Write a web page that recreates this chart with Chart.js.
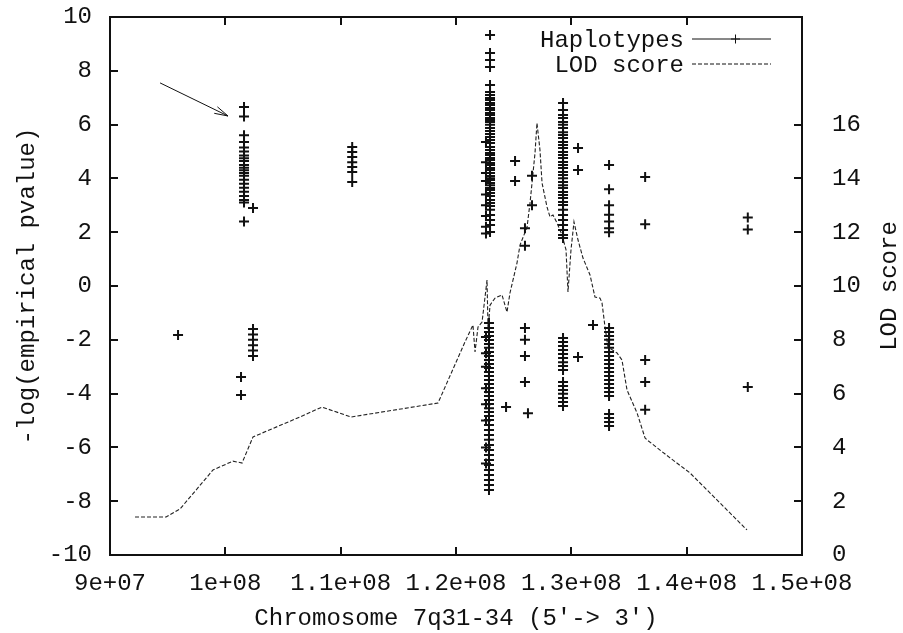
<!DOCTYPE html>
<html>
<head>
<meta charset="utf-8">
<script src="https://cdn.jsdelivr.net/npm/chart.js@4/dist/chart.umd.min.js"></script>
<style>
  body { margin: 0; background: #fff; }
  #chart { display: block; }
</style>
</head>
<body>
<canvas id="chart" width="903" height="633"></canvas>
<script>
// x tick labels, gnuplot style
const xTickLabels = ['9e+07', '1e+08', '1.1e+08', '1.2e+08', '1.3e+08', '1.4e+08', '1.5e+08'];
const y2LastTick = 16;

// LOD score curve (position in bp, LOD on right axis)
const lodPos = [
  92.17e6, 94.86e6, 96.07e6, 98.93e6, 100.66e6, 101.45e6, 102.40e6, 106.47e6, 108.38e6, 110.90e6,
  118.44e6, 120.78e6, 121.47e6, 121.65e6, 121.91e6, 122.26e6, 122.69e6, 122.78e6, 122.95e6, 123.38e6,
  123.99e6, 124.42e6, 124.68e6, 125.29e6, 125.55e6, 126.16e6, 126.42e6, 126.85e6, 127.02e6, 127.28e6,
  127.46e6, 127.89e6, 128.15e6, 128.41e6, 128.76e6, 129.19e6, 129.54e6, 129.71e6, 129.97e6, 130.23e6,
  130.58e6, 131.01e6, 131.62e6, 132.05e6, 132.49e6, 132.66e6, 132.92e6, 133.18e6, 133.96e6, 134.39e6,
  134.83e6, 135.70e6, 136.39e6, 136.56e6, 138.56e6, 140.29e6, 145.23e6
];
const lodScore = [
  1.41, 1.41, 1.71, 3.16, 3.49, 3.42, 4.39, 5.13, 5.50, 5.13,
  5.65, 7.92, 8.55, 7.55, 8.48, 8.66, 10.22, 8.36, 9.29, 9.55,
  9.67, 9.03, 9.74, 10.86, 11.52, 12.19, 13.09, 14.94, 16.06, 15.06,
  13.83, 12.94, 12.57, 12.64, 12.34, 11.90, 11.34, 9.78, 11.34, 12.38,
  11.71, 11.04, 10.41, 9.59, 9.55, 9.37, 8.48, 7.73, 7.51, 7.25,
  6.13, 5.28, 4.35, 4.28, 3.61, 3.05, 0.93
];

// haplotypes: one position, several -log(p) values each
const hapPos = [
  95.9e6, 101.36e6, 101.62e6, 102.4e6, 111.0e6,
  122.6e6, 122.95e6, 122.86e6,
  124.34e6, 125.12e6, 125.98e6, 126.24e6, 126.59e6,
  129.28e6, 130.58e6, 131.88e6, 133.27e6, 136.4e6, 145.3e6
];
const hapVals = [
  [-1.82],
  [-3.38, -4.05],
  [6.65, 6.3, 5.6, 5.35, 5.15, 5.0, 4.85, 4.75, 4.65, 4.5, 4.4, 4.3, 4.2, 4.1, 3.95, 3.8, 3.65, 3.5, 3.35, 3.2, 3.1, 2.4],
  [2.9, -1.6, -1.8, -2.0, -2.2, -2.4, -2.6],
  [5.17, 4.98, 4.8, 4.6, 4.42, 4.24, 3.87],
  [5.35, 4.6, 4.2, 3.9, 3.4, 3.0, 2.6, 2.2, 1.95, -1.9, -2.5, -3.0, -3.8, -4.4, -5.0, -6.0, -6.6],
  [9.33, 8.66, 8.40, 8.14, 7.47, 7.21, 7.10, 6.99, 6.91, 6.80, 6.73, 6.62, 6.54, 6.43, 6.36, 6.25, 6.17, 6.10,
   5.99, 5.87, 5.76, 5.65, 5.54, 5.43, 5.32, 5.17, 5.06, 4.94, 4.87, 4.76, 4.68, 4.57, 4.50, 4.39, 4.31, 4.20,
   4.09, 4.01, 3.94, 3.83, 3.75, 3.64, 3.57, 3.46, 3.35, 3.20, 3.09, 2.97, 2.83, 2.64, 2.45, 2.27, 2.01],
  [-1.38, -1.56, -1.71, -1.86, -2.01, -2.16, -2.30, -2.45, -2.60, -2.75, -2.90, -3.05, -3.20, -3.35, -3.49,
   -3.64, -3.79, -3.94, -4.09, -4.24, -4.39, -4.54, -4.68, -4.83, -4.98, -5.17, -5.35, -5.54, -5.72, -5.91,
   -6.10, -6.28, -6.47, -6.65, -6.84, -7.03, -7.21, -7.40, -7.58],
  [-4.5],
  [4.65, 3.9],
  [2.15, 1.5, -1.56, -2.0, -2.6, -3.57],
  [-4.73],
  [4.1, 3.0],
  [6.80, 6.54, 6.36, 6.25, 6.10, 5.99, 5.87, 5.72, 5.61, 5.50, 5.35, 5.24, 5.13, 4.98, 4.87, 4.76, 4.61, 4.50,
   4.39, 4.24, 4.13, 4.01, 3.87, 3.75, 3.64, 3.49, 3.38, 3.27, 3.12, 3.01, 2.83, 2.64, 2.45, 2.27, 2.08, 1.90, 1.78,
   -1.93, -2.08, -2.23, -2.38, -2.53, -2.68, -2.83, -2.97, -3.12, -3.57, -3.72, -3.87, -4.01, -4.16, -4.31, -4.46],
  [5.13, 4.31, -2.64],
  [-1.45],
  [4.5, 3.6, 3.0, 2.65, 2.4, 2.15, 2.0,
   -1.56, -1.71, -1.86, -2.0, -2.16, -2.3, -2.45, -2.6, -2.75, -2.9, -3.05, -3.2, -3.35, -3.49, -3.64, -3.79,
   -3.94, -4.09, -4.76, -4.91, -5.06, -5.2],
  [4.05, 2.3, -2.75, -3.57, -4.6],
  [2.55, 2.1, -3.75]
];

// arrow annotation (start, end) in data coordinates of left axis
const arrowFrom = [94.34e6, 7.55];
const arrowTo = [100.23e6, 6.32];

const FONT = { family: '"Liberation Mono", "DejaVu Sans Mono", monospace', size: 24 };
const INK = '#111';

const hapPoints = hapPos.flatMap((x, i) => hapVals[i].map(y => ({ x: x, y: y })));
const lodPoints = lodPos.map((x, i) => ({ x: x, y: lodScore[i] }));

// no extra room for the first / last tick labels, gnuplot keeps the box fixed
function noEdgePadding(s) {
  s.paddingTop = 0; s.paddingBottom = 0;
  s.paddingLeft = 0; s.paddingRight = 0;
}

// border, inward ticks, legend, arrow and right title, gnuplot look
const gnuplotFrame = {
  id: 'gnuplotFrame',
  afterDraw(chart) {
    const { ctx, chartArea: a, scales } = chart;
    ctx.save();
    ctx.strokeStyle = INK;
    ctx.lineWidth = 2;
    ctx.beginPath();
    scales.x.ticks.forEach(t => {
      const px = Math.round(scales.x.getPixelForValue(t.value));
      ctx.moveTo(px, a.bottom); ctx.lineTo(px, a.bottom - 8);
      ctx.moveTo(px, a.top); ctx.lineTo(px, a.top + 8);
    });
    scales.y.ticks.forEach(t => {
      const py = Math.round(scales.y.getPixelForValue(t.value));
      ctx.moveTo(a.left, py); ctx.lineTo(a.left + 8, py);
    });
    scales.y2.ticks.forEach(t => {
      if (t.value > y2LastTick) return;
      const py = Math.round(scales.y2.getPixelForValue(t.value));
      ctx.moveTo(a.right, py); ctx.lineTo(a.right - 8, py);
    });
    ctx.stroke();
    ctx.strokeRect(a.left, a.top, a.right - a.left, a.bottom - a.top);

    // arrow
    const x0 = scales.x.getPixelForValue(arrowFrom[0]), y0 = scales.y.getPixelForValue(arrowFrom[1]);
    const x1 = scales.x.getPixelForValue(arrowTo[0]), y1 = scales.y.getPixelForValue(arrowTo[1]);
    const ang = Math.atan2(y1 - y0, x1 - x0);
    ctx.lineWidth = 1;
    ctx.beginPath();
    ctx.moveTo(x0, y0); ctx.lineTo(x1, y1);
    ctx.moveTo(x1 - 14 * Math.cos(ang - 0.26), y1 - 14 * Math.sin(ang - 0.26));
    ctx.lineTo(x1, y1);
    ctx.lineTo(x1 - 14 * Math.cos(ang + 0.26), y1 - 14 * Math.sin(ang + 0.26));
    ctx.stroke();

    // legend
    ctx.fillStyle = INK;
    ctx.font = FONT.size + 'px ' + FONT.family;
    ctx.textAlign = 'right';
    ctx.textBaseline = 'middle';
    ctx.fillText('Haplotypes', 684, 41);
    ctx.fillText('LOD score', 684, 66);
    ctx.lineWidth = 1;
    ctx.beginPath();
    ctx.moveTo(692, 39); ctx.lineTo(771, 39);
    ctx.moveTo(731, 39); ctx.lineTo(740, 39);
    ctx.moveTo(735.5, 34.5); ctx.lineTo(735.5, 43.5);
    ctx.stroke();
    ctx.setLineDash([4, 2]);
    ctx.beginPath();
    ctx.moveTo(692, 64); ctx.lineTo(771, 64);
    ctx.stroke();
    ctx.setLineDash([]);

    // right axis title, reading bottom to top
    ctx.translate(890, (a.top + a.bottom) / 2);
    ctx.rotate(-Math.PI / 2);
    ctx.textAlign = 'center';
    ctx.fillText('LOD score', 0, 0);
    ctx.restore();
  }
};

new Chart(document.getElementById('chart'), {
  type: 'scatter',
  data: {
    datasets: [{
      label: 'Haplotypes',
      data: hapPoints,
      yAxisID: 'y',
      showLine: false,
      pointStyle: 'cross',
      pointRadius: 5,
      borderColor: INK,
      backgroundColor: INK,
      borderWidth: 2
    }, {
      label: 'LOD score',
      data: lodPoints,
      yAxisID: 'y2',
      showLine: true,
      pointRadius: 0,
      borderColor: '#222',
      borderWidth: 1.1,
      borderDash: [4, 2],
      tension: 0
    }]
  },
  options: {
    responsive: false,
    animation: false,
    devicePixelRatio: 1,
    layout: { padding: { top: 17, left: 0, right: 0, bottom: 0 } },
    plugins: {
      legend: { display: false },
      tooltip: { enabled: false }
    },
    scales: {
      x: {
        type: 'linear',
        position: 'bottom',
        min: 9e7,
        max: 1.5e8,
        grid: { display: false, drawTicks: false },
        border: { display: false },
        ticks: {
          stepSize: 1e7,
          padding: 14,
          maxRotation: 0,
          autoSkip: false,
          color: INK,
          font: FONT,
          callback: (v, i) => xTickLabels[i]
        },
        title: {
          display: true,
          text: "Chromosome 7q31-34 (5'-> 3')",
          color: INK,
          font: FONT,
          padding: { top: 0, bottom: 0 }
        },
        afterFit: s => { s.height = 78; noEdgePadding(s); }
      },
      y: {
        position: 'left',
        min: -10,
        max: 10,
        grid: { display: false, drawTicks: false },
        border: { display: false },
        ticks: { stepSize: 2, padding: 18, color: INK, font: FONT },
        title: {
          display: true,
          text: '-log(empirical pvalue)',
          color: INK,
          font: FONT,
          padding: { top: 13, bottom: 0 }
        },
        afterFit: s => { s.width = 110; noEdgePadding(s); }
      },
      y2: {
        position: 'right',
        min: 0,
        max: 20,
        grid: { display: false, drawTicks: false },
        border: { display: false },
        ticks: {
          stepSize: 2,
          padding: 30,
          color: INK,
          font: FONT,
          callback: v => (v <= y2LastTick ? v : '')
        },
        afterFit: s => { s.width = 101; noEdgePadding(s); }
      }
    }
  },
  plugins: [gnuplotFrame]
});
</script>
</body>
</html>
